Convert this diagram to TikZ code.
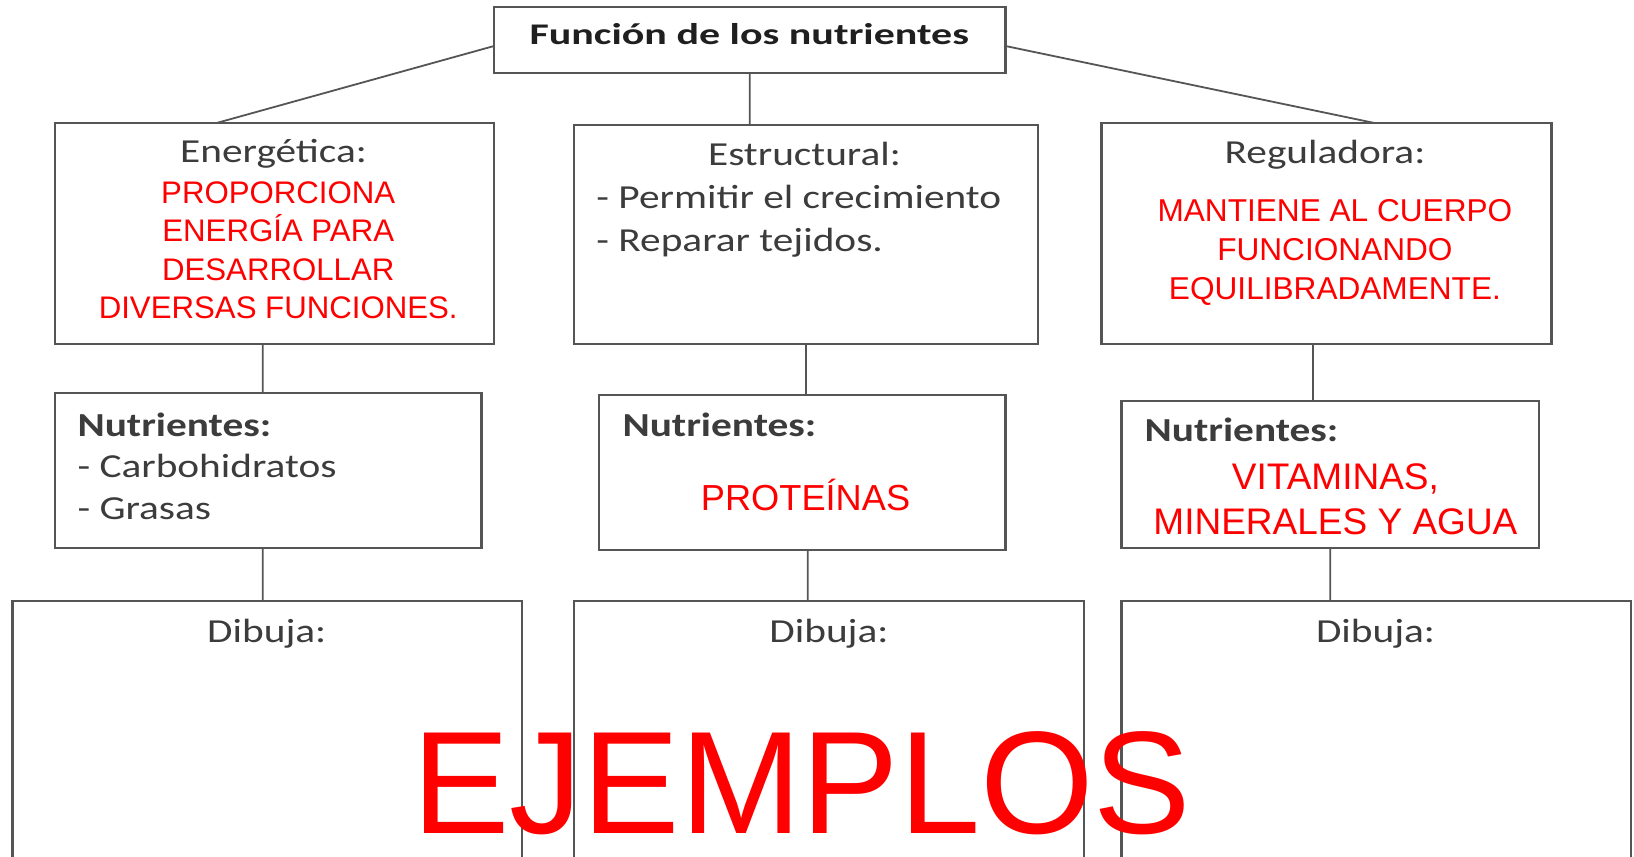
\documentclass[tikz,border=0pt]{standalone}
\usepackage{fontspec}
\setmainfont{Carlito}[FakeStretch=1.23]
\newfontfamily\titlefont{Carlito}[FakeStretch=1.4]
\newfontfamily\redfont{Liberation Sans}
\usetikzlibrary{calc}

\definecolor{boxgray}{HTML}{555555}
\definecolor{textgray}{HTML}{3C3C3C}

\begin{document}
\begin{tikzpicture}[
    x=0.521pt,
    y=-0.521pt,
    box/.style 2 args={draw=boxgray, line width=1.2pt, rectangle,
        anchor=north west, inner sep=0pt, outer sep=0pt,
        minimum width=#1*0.521pt, minimum height=#2*0.521pt},
    graytext/.style={text=textgray, inner sep=0pt, align=left,
        font=\fontsize{16.8}{20.8}\selectfont},
    redtext/.style={text=red, inner sep=0pt, align=center, anchor=base,
        font=\redfont\fontsize{15.6}{19.1}\selectfont},
    link/.style={draw=boxgray, line width=0.9pt},
]

    \useasboundingbox (0,0) rectangle (1568,822);

    % boxes
    \node[box={491}{63}]  (title) at (474,7)   {};
    \node[box={421}{212}] (ener)  at (53,118)  {};
    \node[box={445}{210}] (estr)  at (551,120) {};
    \node[box={432}{212}] (reg)   at (1057,118) {};
    \node[box={409}{149}] (nuta)  at (53,377)  {};
    \node[box={390}{149}] (nutb)  at (575,379) {};
    \node[box={401}{141}] (nutc)  at (1076,385) {};
    \node[box={489}{262}] (diba)  at (12,577)  {};
    \node[box={489}{262}] (dibb)  at (551,577) {};
    \node[box={489}{262}] (dibc)  at (1076,577) {};

    % texts (multi-line nodes sit on their last line)
    \node[inner sep=0pt, anchor=base, text=black!88,
          font=\titlefont\bfseries\fontsize{15}{18}\selectfont]
          (titletxt) at (719,43) {Función de los nutrientes};

    \node[graytext, anchor=base] (enertxt) at (262.5,156) {Energética:};
    \node[redtext] (enerred) at (267,305.5)
        {PROPORCIONA\\ENERGÍA PARA\\DESARROLLAR\\DIVERSAS FUNCIONES.};

    \node[graytext, anchor=base] (estrtxt) at (772,159) {Estructural:};
    \node[graytext, anchor=base west, font=\fontsize{16.8}{21.3}\selectfont]
        (estrlist) at (572,241)
        {- Permitir el crecimiento\\- Reparar tejidos.};

    \node[graytext, anchor=base] (regtxt) at (1271.5,157) {Reguladora:};
    \node[redtext, font=\redfont\fontsize{15.8}{19.4}\selectfont] (regred) at (1281,287)
        {MANTIENE AL CUERPO\\FUNCIONANDO\\EQUILIBRADAMENTE.};

    \node[graytext, anchor=base west] (natxt) at (74,498.5)
        {\textbf{Nutrientes:}\\- Carbohidratos\\- Grasas};
    \node[graytext, anchor=base west, font=\bfseries\fontsize{16.8}{20.8}\selectfont]
        (nbtxt) at (597,419) {Nutrientes:};
    \node[redtext, font=\redfont\fontsize{18.1}{22}\selectfont] (nbred) at (773,489.5)
        {PROTEÍNAS};
    \node[graytext, anchor=base west, font=\bfseries\fontsize{16.8}{20.8}\selectfont]
        (nctxt) at (1098,424) {Nutrientes:};
    \node[redtext, font=\redfont\fontsize{18.5}{22.2}\selectfont] (ncred) at (1281.5,512.7)
        {VITAMINAS,\\MINERALES Y AGUA};

    \node[graytext, anchor=base] (datxt) at (256,617) {Dibuja:};
    \node[graytext, anchor=base] (dbtxt) at (795.5,617) {Dibuja:};
    \node[graytext, anchor=base] (dctxt) at (1320,617) {Dibuja:};

    \node[redtext, font=\redfont\fontsize{73}{80}\selectfont] (examples) at (769.5,799.5)
        {EJEMPLOS};

    % connectors
    \path[link]
        ($(title.north west)!0.59!(title.south west)$) -- ($(ener.north west)!0.368!(ener.north east)$)
        (title.south) -- (title.south |- estr.north)
        ($(title.north east)!0.59!(title.south east)$) -- ($(reg.north west)!0.606!(reg.north east)$)
        ($(ener.south west)!0.473!(ener.south east)$) coordinate (ea) -- (ea |- nuta.north)
        (estr.south) -- (estr.south |- nutb.north)
        ($(reg.south west)!0.47!(reg.south east)$) coordinate (ra) -- (ra |- nutc.north)
        ($(nuta.south west)!0.487!(nuta.south east)$) coordinate (na) -- (na |- diba.north)
        ($(nutb.south west)!0.513!(nutb.south east)$) coordinate (nb) -- (nb |- dibb.north)
        (nutc.south) -- (nutc.south |- dibc.north)
    ;
\end{tikzpicture}
\end{document}
